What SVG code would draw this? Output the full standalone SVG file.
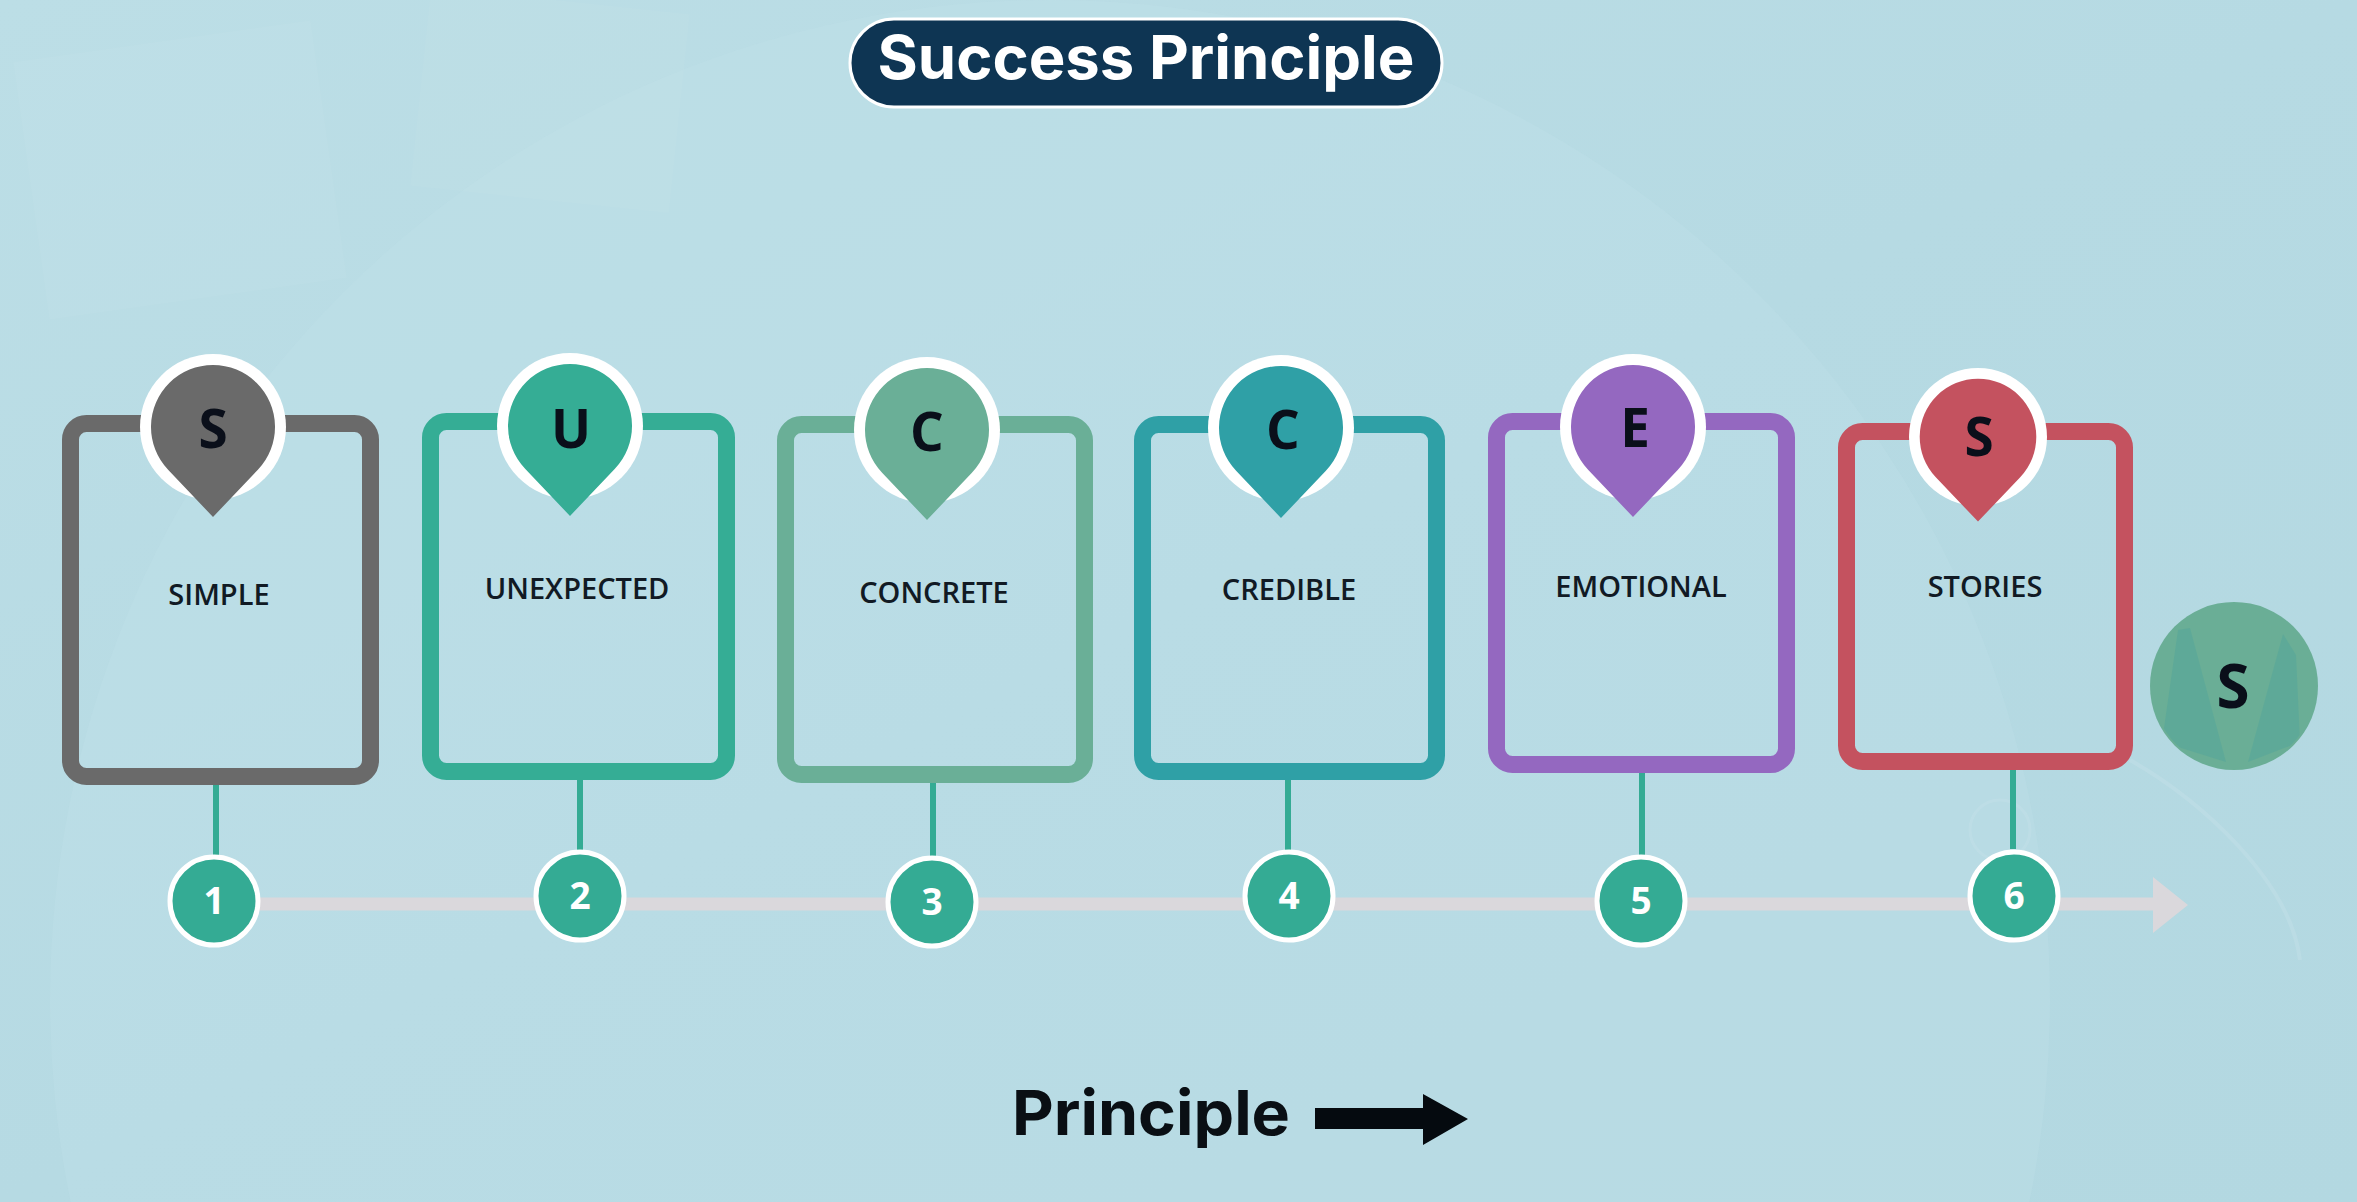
<svg xmlns="http://www.w3.org/2000/svg" width="2357" height="1202" viewBox="0 0 2357 1202">
<style>
.box{fill:none;stroke-width:17}
.lbl{font-family:"Open Sans","Liberation Sans",sans-serif;font-size:29px;font-weight:600;fill:#111a24;text-anchor:middle}
.let{font-family:"Open Sans","Liberation Sans",sans-serif;font-size:53px;font-weight:700;fill:#0a0f1a;text-anchor:middle}
.num{fill:#34ab94;stroke:#ffffff;stroke-width:5}
.numt{font-family:"Open Sans","Liberation Sans",sans-serif;font-size:37px;font-weight:700;fill:#ffffff;text-anchor:middle}
.con{stroke:#34ab94;stroke-width:6}
.ring{fill:#ffffff}
</style>
<defs>
<linearGradient id="bg" x1="0" y1="0" x2="1" y2="1">
<stop offset="0" stop-color="#bcdee6"/>
<stop offset="0.5" stop-color="#b6dae3"/>
<stop offset="1" stop-color="#b3d8e1"/>
</linearGradient>
<path id="pin" d="M -44.9 42.7 A 62 62 0 1 1 44.9 42.7 L 0 90 Z"/>
<clipPath id="sclip"><circle cx="2234" cy="686" r="82"/></clipPath>
</defs>
<rect width="2357" height="1202" fill="url(#bg)"/>
<circle cx="1050" cy="1000" r="1000" fill="#c2e3ea" opacity="0.25"/>
<rect x="30" y="40" width="300" height="260" fill="#ffffff" opacity="0.04" transform="rotate(-8 180 170)"/>
<rect x="420" y="0" width="260" height="200" fill="#ffffff" opacity="0.035" transform="rotate(6 550 100)"/>
<path d="M 2130 760 C 2200 800 2290 880 2300 960" fill="none" stroke="#ffffff" stroke-width="4" opacity="0.1"/>
<circle cx="2000" cy="830" r="30" fill="none" stroke="#ffffff" stroke-width="3" opacity="0.08"/>

<g id="title">
<rect x="850" y="19" width="592" height="88" rx="44" fill="#0e3553" stroke="#ffffff" stroke-width="3"/>
<text x="1146" y="79" font-family="Inter,'Liberation Sans',sans-serif" font-size="60" font-weight="700" fill="#ffffff" text-anchor="middle" textLength="537" lengthAdjust="spacingAndGlyphs">Success Principle</text>
</g>

<g id="connectors">
<line x1="214" y1="904" x2="2155" y2="904" stroke="#dad8dc" stroke-width="13"/>
<polygon points="2153,877 2188,905 2153,933" fill="#dad8dc"/>
<line class="con" x1="216" y1="783" x2="216" y2="856"/>
<line class="con" x1="580" y1="778" x2="580" y2="850"/>
<line class="con" x1="933" y1="781" x2="933" y2="856"/>
<line class="con" x1="1288" y1="778" x2="1288" y2="850"/>
<line class="con" x1="1642" y1="771" x2="1642" y2="855"/>
<line class="con" x1="2013" y1="768" x2="2013" y2="849"/>
</g>

<g id="node-simple">
<rect class="box" x="70.5" y="423.5" width="300" height="353" rx="16" stroke="#6a6a6a"/>
<circle class="ring" cx="213" cy="427" r="73"/>
<use href="#pin" transform="translate(213 427)" fill="#6a6a6a"/>
<text class="let" x="213" y="448">S</text>
<text class="lbl" x="219" y="605">SIMPLE</text>
</g>

<g id="node-unexpected">
<rect class="box" x="430.5" y="421.5" width="296" height="350" rx="16" stroke="#35ad95"/>
<circle class="ring" cx="570" cy="426" r="73"/>
<use href="#pin" transform="translate(570 426)" fill="#35ad95"/>
<text class="let" x="571" y="448">U</text>
<text class="lbl" x="577" y="599">UNEXPECTED</text>
</g>

<g id="node-concrete">
<rect class="box" x="785.5" y="424.5" width="299" height="350" rx="16" stroke="#6aaf97"/>
<circle class="ring" cx="927" cy="430" r="73"/>
<use href="#pin" transform="translate(927 430)" fill="#6aaf97"/>
<text class="let" x="927" y="451">C</text>
<text class="lbl" x="934" y="603">CONCRETE</text>
</g>

<g id="node-credible">
<rect class="box" x="1142.5" y="424.5" width="294" height="347" rx="16" stroke="#2fa0a6"/>
<circle class="ring" cx="1281" cy="428" r="73"/>
<use href="#pin" transform="translate(1281 428)" fill="#2fa0a6"/>
<text class="let" x="1283" y="449">C</text>
<text class="lbl" x="1289" y="600">CREDIBLE</text>
</g>

<g id="node-emotional">
<rect class="box" x="1496.5" y="421.5" width="290" height="343" rx="16" stroke="#9468c0"/>
<circle class="ring" cx="1633" cy="427" r="73"/>
<use href="#pin" transform="translate(1633 427)" fill="#9468c0"/>
<text class="let" x="1635" y="447">E</text>
<text class="lbl" x="1641" y="597">EMOTIONAL</text>
</g>

<g id="node-stories">
<rect class="box" x="1846.5" y="431.5" width="278" height="330" rx="16" stroke="#c4525f"/>
<circle class="ring" cx="1978" cy="437" r="69"/>
<use href="#pin" transform="translate(1978 437) scale(0.94)" fill="#c4525f"/>
<text class="let" x="1979" y="456" font-size="48">S</text>
<text class="lbl" x="1985" y="597">STORIES</text>
</g>

<g id="node-s-final">
<circle cx="2234" cy="686" r="84" fill="#6aae96"/>
<g clip-path="url(#sclip)">
<path d="M 2178 630 L 2190 628 L 2226 762 L 2162 742 Z" fill="#4fa39c" opacity="0.45"/>
<path d="M 2283 634 L 2296 655 L 2300 742 L 2248 762 Z" fill="#4fa39c" opacity="0.45"/>
</g>
<text x="2233" y="708" font-family="'Open Sans','Liberation Sans',sans-serif" font-size="60" font-weight="700" fill="#0a0f1a" text-anchor="middle">S</text>
</g>

<g id="num-1"><circle class="num" cx="214" cy="901" r="44"/><text class="numt" x="214" y="914">1</text></g>
<g id="num-2"><circle class="num" cx="580" cy="896" r="44"/><text class="numt" x="580" y="909">2</text></g>
<g id="num-3"><circle class="num" cx="932" cy="902" r="44"/><text class="numt" x="932" y="915">3</text></g>
<g id="num-4"><circle class="num" cx="1289" cy="896" r="44"/><text class="numt" x="1289" y="909">4</text></g>
<g id="num-5"><circle class="num" cx="1641" cy="901" r="44"/><text class="numt" x="1641" y="914">5</text></g>
<g id="num-6"><circle class="num" cx="2014" cy="896" r="44"/><text class="numt" x="2014" y="909">6</text></g>

<g id="footer">
<text x="1012" y="1135" font-family="Inter,'Liberation Sans',sans-serif" font-size="62" font-weight="700" fill="#0a0f14" textLength="278" lengthAdjust="spacingAndGlyphs">Principle</text>
<polygon points="1315,1108 1423,1108 1423,1094 1468,1119 1423,1145 1423,1129 1315,1129" fill="#050a0f"/>
</g>
</svg>
